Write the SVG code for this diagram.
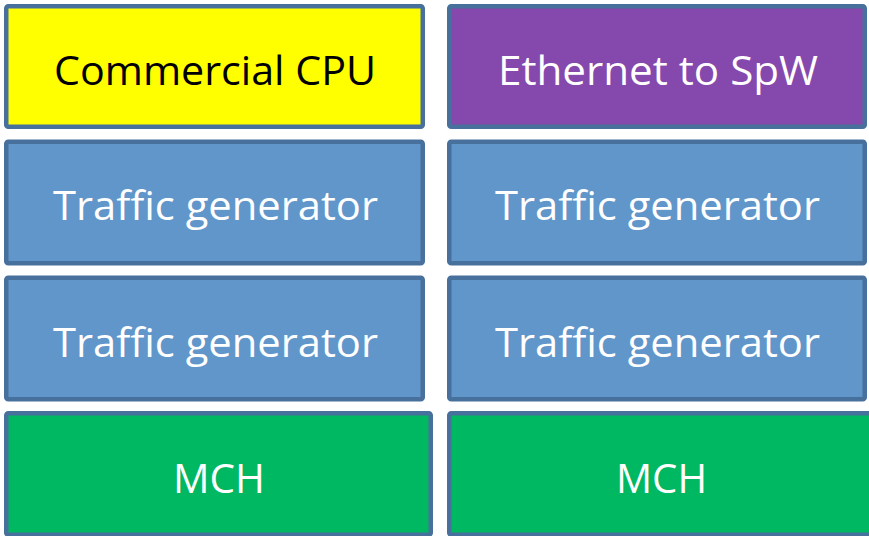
<svg xmlns="http://www.w3.org/2000/svg" width="869" height="536" viewBox="0 0 869 536">
<style>
rect{stroke:#48709c;stroke-width:4.5}
text{font-family:"Open Sans","Liberation Sans",sans-serif;font-size:40px;text-anchor:middle;fill:#fff}
.y{fill:#ffff00}.p{fill:#8548ad}.b{fill:#6196ca}.g{fill:#00b862}
</style>
<rect width="869" height="536" fill="#fff" style="stroke:none"/>
<g id="cpu"><rect class="y" x="6.25" y="6.25" width="416.5" height="120.5" rx="2"/><text x="215" y="85" style="fill:#000" textLength="322" lengthAdjust="spacingAndGlyphs">Commercial CPU</text></g>
<g id="eth"><rect class="p" x="449.25" y="6.25" width="415.5" height="120.5" rx="2"/><text x="658" y="85" textLength="320" lengthAdjust="spacingAndGlyphs">Ethernet to SpW</text></g>
<g id="tg1"><rect class="b" x="6.25" y="141.75" width="416.5" height="121.5" rx="2"/><text x="215.5" y="220" textLength="325" lengthAdjust="spacingAndGlyphs">Traffic generator</text></g>
<g id="tg2"><rect class="b" x="449.25" y="141.75" width="415.5" height="121.5" rx="2"/><text x="657.5" y="220" textLength="325" lengthAdjust="spacingAndGlyphs">Traffic generator</text></g>
<g id="tg3"><rect class="b" x="6.25" y="277.75" width="416.5" height="121.5" rx="2"/><text x="215.5" y="357" textLength="325" lengthAdjust="spacingAndGlyphs">Traffic generator</text></g>
<g id="tg4"><rect class="b" x="449.25" y="277.75" width="415.5" height="121.5" rx="2"/><text x="657.5" y="357" textLength="325" lengthAdjust="spacingAndGlyphs">Traffic generator</text></g>
<g id="mch1"><rect class="g" x="6.25" y="413.25" width="424.5" height="121.5" rx="2"/><text x="219" y="493" textLength="92" lengthAdjust="spacingAndGlyphs">MCH</text></g>
<g id="mch2"><rect class="g" x="449.25" y="413.25" width="430" height="121.5" rx="2"/><text x="661.5" y="493" textLength="91" lengthAdjust="spacingAndGlyphs">MCH</text></g>
<g id="connectors"/>
</svg>
